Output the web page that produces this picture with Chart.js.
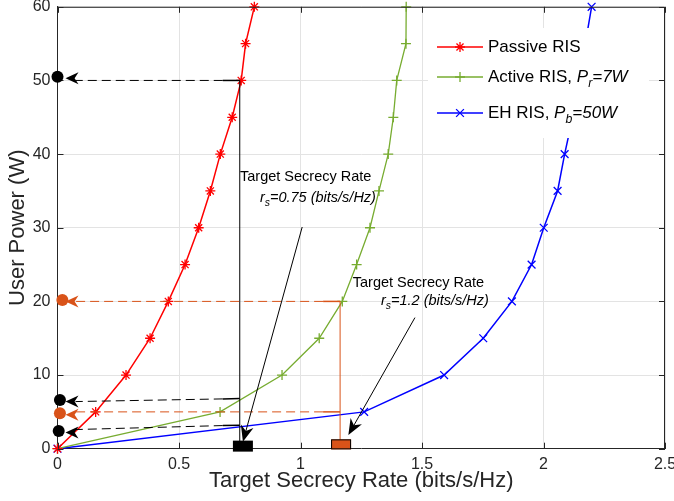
<!DOCTYPE html>
<html><head><meta charset="utf-8">
<script src="https://cdn.jsdelivr.net/npm/chart.js@4/dist/chart.umd.min.js"></script>
<style>html,body{margin:0;padding:0;background:#fff;overflow:hidden}#wrap{position:relative;width:674px;height:501px}</style>
</head><body><div id="wrap"><canvas id="c" width="674" height="501"></canvas></div>
<script>
// ---- data ----
const powerLevels = [0, 5, 10, 15, 20, 25, 30, 35, 40, 45, 50, 55, 60];
const passiveRate = [0, 0.157, 0.282, 0.381, 0.456, 0.525, 0.581, 0.629, 0.670, 0.719, 0.756, 0.774, 0.810];
const activeRate  = [0, 0.669, 0.924, 1.077, 1.172, 1.231, 1.286, 1.323, 1.361, 1.382, 1.396, 1.434, 1.435];
const ehRate      = [0, 1.262, 1.591, 1.752, 1.870, 1.951, 2.001, 2.058, 2.087, 2.120, 2.145, 2.172, 2.198];
const xTicks = [0, 0.5, 1, 1.5, 2, 2.5];
const yTicks = [0, 10, 20, 30, 40, 50, 60];
const seriesNames = ['Passive RIS', 'Active RIS, ', 'EH RIS, '];
// target rates and the powers
const targetRates = [0.75, 1.163];
const guideFromX = [0.75, 0.75, 0.75, 1.163, 1.163];
const guideFromY = [50, 6.8, 3.2, 20, 5];
const guideToY   = [50, 6.4, 2.6, 20, 5];
const guideDotX  = [0, 0.01, 0.005, 0.02, 0.01];
const guideDotY  = [50.5, 6.6, 2.4, 20.2, 4.8];
const guideColor = ['#000', '#000', '#000', '#D95319', '#D95319'];

const FONT = '"Liberation Sans", Arial, Helvetica, sans-serif';
const AX = '#262626';

function series(label, xs, color, style, r, bw) {
  return {
    label, data: powerLevels.map((p, i) => ({x: xs[i], y: p})),
    borderColor: color, backgroundColor: color, borderWidth: bw,
    pointStyle: style, pointRadius: r, pointHoverRadius: r, pointBorderWidth: 1.3,
    pointBorderColor: color, showLine: true, tension: 0, clip: false, fill: false
  };
}

function rich(ctx, x, y, parts, size, color) {
  let cx = x;
  ctx.fillStyle = color; ctx.textBaseline = 'middle'; ctx.textAlign = 'left';
  for (const p of parts) {
    const fs = p.sub ? size * 0.72 : size;
    ctx.font = (p.it ? 'italic ' : '') + fs + 'px ' + FONT;
    ctx.fillText(p.t, cx, y + (p.sub ? size * 0.4 : 0));
    cx += ctx.measureText(p.t).width;
  }
}

function marker(ctx, style, cx, cy, r, color) {
  ctx.save();
  ctx.strokeStyle = color; ctx.lineWidth = 1.3;
  ctx.beginPath();
  if (style === 'cross' || style === 'star') {
    ctx.moveTo(cx - r, cy); ctx.lineTo(cx + r, cy); ctx.moveTo(cx, cy - r); ctx.lineTo(cx, cy + r);
  }
  if (style === 'crossRot' || style === 'star') {
    const d = r * Math.SQRT1_2;
    ctx.moveTo(cx - d, cy - d); ctx.lineTo(cx + d, cy + d); ctx.moveTo(cx - d, cy + d); ctx.lineTo(cx + d, cy - d);
  }
  ctx.stroke();
  ctx.restore();
}

function arrowHead(ctx, tx, ty, ang, len, half, color) {
  // filled "vback" head with tip at (tx,ty), pointing along ang
  const c = Math.cos(ang), s = Math.sin(ang);
  const bx = tx - c * len, by = ty - s * len;
  const nx = tx - c * len * 0.7, ny = ty - s * len * 0.7;
  ctx.fillStyle = color;
  ctx.beginPath();
  ctx.moveTo(tx, ty);
  ctx.lineTo(bx - s * half, by + c * half);
  ctx.lineTo(nx, ny);
  ctx.lineTo(bx + s * half, by - c * half);
  ctx.closePath();
  ctx.fill();
}

const overlay = {
  id: 'overlay',
  afterDatasetsDraw(chart) {
    const {ctx, chartArea: a, scales: {x, y}} = chart;
    const X = v => x.getPixelForValue(v), Y = v => y.getPixelForValue(v);
    ctx.save();
    // top/right box
    ctx.strokeStyle = AX; ctx.lineWidth = 1;
    ctx.beginPath();
    ctx.moveTo(a.left, a.top + 0.5); ctx.lineTo(a.right - 0.5, a.top + 0.5); ctx.lineTo(a.right - 0.5, a.bottom);
    ctx.stroke();
    // inward ticks
    ctx.beginPath();
    for (const v of xTicks) {
      const px = Math.round(X(v)) + 0.5;
      ctx.moveTo(px, a.bottom); ctx.lineTo(px, a.bottom - 6);
      ctx.moveTo(px, a.top); ctx.lineTo(px, a.top + 6);
    }
    for (const v of yTicks) {
      const py = Math.round(Y(v)) + 0.5;
      ctx.moveTo(a.left, py); ctx.lineTo(a.left + 6, py);
      ctx.moveTo(a.right, py); ctx.lineTo(a.right - 6, py);
    }
    ctx.stroke();

    // vertical target lines
    ctx.lineWidth = 1;
    ctx.strokeStyle = '#000';
    ctx.beginPath(); ctx.moveTo(X(targetRates[0]), Y(50)); ctx.lineTo(X(targetRates[0]), Y(0)); ctx.stroke();
    ctx.strokeStyle = '#D95319';
    ctx.beginPath(); ctx.moveTo(X(targetRates[1]), Y(20)); ctx.lineTo(X(targetRates[1]), Y(0)); ctx.stroke();

    // guide arrows
    for (let i = 0; i < guideFromX.length; i++) {
      const col = guideColor[i];
      const x1 = X(guideFromX[i]), y1 = Y(guideFromY[i]);
      const dx = X(guideDotX[i]), dy = Y(guideDotY[i]);
      const ex = X(0) + 8, ey = Y(guideToY[i]);
      ctx.strokeStyle = col; ctx.lineWidth = 1;
      ctx.setLineDash([9, 5]);
      ctx.beginPath(); ctx.moveTo(x1 - 17, y1 + (ey - y1) * 17 / (x1 - ex)); ctx.lineTo(ex + 10, ey); ctx.stroke();
      ctx.setLineDash([]);
      ctx.lineWidth = 1.5;
      ctx.beginPath(); ctx.moveTo(x1, y1); ctx.lineTo(x1 - 17, y1 + (ey - y1) * 17 / (x1 - ex)); ctx.stroke();
      // dot
      ctx.fillStyle = col;
      ctx.beginPath(); ctx.arc(dx, dy, 6, 0, Math.PI * 2); ctx.fill();
      // chevron
      arrowHead(ctx, ex, dy + 1.5, Math.PI, 13, 6, col);
    }

    // target squares
    ctx.fillStyle = '#000';
    ctx.fillRect(X(0.763) - 10, Y(0.35) - 5.5, 20, 11);
    ctx.fillStyle = '#D95319'; ctx.strokeStyle = '#000'; ctx.lineWidth = 1;
    ctx.fillRect(X(1.167) - 10, Y(0.59) - 5, 20, 10);
    ctx.strokeRect(X(1.167) - 10 + 0.5, Y(0.59) - 5 + 0.5, 19, 9);

    // text arrows
    const arrows = [[1.007, 30.1, 0.763, 0.95], [1.471, 17.8, 1.197, 1.85]];
    for (const [sx, sy, tx, ty] of arrows) {
      const x0 = X(sx), y0 = Y(sy), x2 = X(tx), y2 = Y(ty);
      const ang = Math.atan2(y2 - y0, x2 - x0);
      ctx.strokeStyle = '#000'; ctx.lineWidth = 1;
      ctx.beginPath(); ctx.moveTo(x0, y0); ctx.lineTo(x2 - Math.cos(ang) * 8, y2 - Math.sin(ang) * 8); ctx.stroke();
      arrowHead(ctx, x2, y2, ang, 16, 6.5, '#000');
    }
    // annotation text
    rich(ctx, X(0.751), Y(36.9), [{t: 'Target Secrecy Rate'}], 14.5, '#000');
    rich(ctx, X(0.833), Y(34.1), [{t: 'r', it: 1}, {t: 's', it: 1, sub: 1}, {t: '=0.75 (bits/s/Hz)', it: 1}], 14.5, '#000');
    rich(ctx, X(1.215), Y(22.5), [{t: 'Target Secrecy Rate'}], 14.5, '#000');
    rich(ctx, X(1.331), Y(20.1), [{t: 'r', it: 1}, {t: 's', it: 1, sub: 1}, {t: '=1.2 (bits/s/Hz)', it: 1}], 14.5, '#000');

    // legend
    ctx.fillStyle = '#fff';
    ctx.fillRect(428, 28, 221, 110);
    const rows = [47, 77, 113];
    const ds = chart.data.datasets;
    const extra = [[], [{t: 'P', it: 1}, {t: 'r', it: 1, sub: 1}, {t: '=7W', it: 1}], [{t: 'P', it: 1}, {t: 'b', it: 1, sub: 1}, {t: '=50W', it: 1}]];
    for (let i = 0; i < 3; i++) {
      const col = ds[i].borderColor, ry = rows[i];
      ctx.strokeStyle = col; ctx.lineWidth = ds[i].borderWidth;
      ctx.beginPath(); ctx.moveTo(437, ry); ctx.lineTo(483, ry); ctx.stroke();
      marker(ctx, ds[i].pointStyle, 460, ry, ds[i].pointRadius, col);
      rich(ctx, 488, ry, [{t: seriesNames[i]}].concat(extra[i]), 17, '#000');
    }
    ctx.restore();
  }
};

new Chart(document.getElementById('c'), {
  type: 'scatter',
  data: {
    datasets: [
      series(seriesNames[0], passiveRate, '#FF0000', 'star', 5, 1.5),
      series(seriesNames[1], activeRate, '#77AC30', 'cross', 5, 1.3),
      series(seriesNames[2], ehRate, '#0000FF', 'crossRot', 5.5, 1.5)
    ]
  },
  options: {
    responsive: false, animation: false, events: [],
    layout: {padding: {top: 4, right: 9, bottom: 0, left: 0}},
    plugins: {legend: {display: false}, tooltip: {enabled: false}},
    scales: {
      x: {
        type: 'linear', min: 0, max: 2.5,
        afterBuildTicks: s => { s.ticks = xTicks.map(v => ({value: v})); },
        ticks: {font: {family: FONT, size: 16}, color: AX, padding: 6, maxRotation: 0, autoSkip: false, callback: v => String(v)},
        grid: {color: '#e3e3e3', drawTicks: false},
        border: {display: true, color: AX, width: 1},
        title: {display: true, text: 'Target Secrecy Rate (bits/s/Hz)', font: {family: FONT, size: 22}, color: AX, padding: {top: 0, bottom: 7}},
        afterFit: s => { s.height = 52.3; s.paddingLeft = 0; s.paddingRight = 0; }
      },
      y: {
        type: 'linear', min: 0, max: 60,
        afterBuildTicks: s => { s.ticks = yTicks.map(v => ({value: v})); },
        ticks: {font: {family: FONT, size: 16}, color: AX, padding: 7, autoSkip: false, callback: v => String(v)},
        grid: {color: '#e3e3e3', drawTicks: false},
        border: {display: true, color: AX, width: 1},
        title: {display: true, text: 'User Power (W)', font: {family: FONT, size: 22}, color: AX, padding: {top: 5, bottom: 0}},
        afterFit: s => { s.width = 57.5; s.paddingTop = 0; s.paddingBottom = 0; }
      }
    }
  },
  plugins: [overlay]
});
</script>
</body></html>
